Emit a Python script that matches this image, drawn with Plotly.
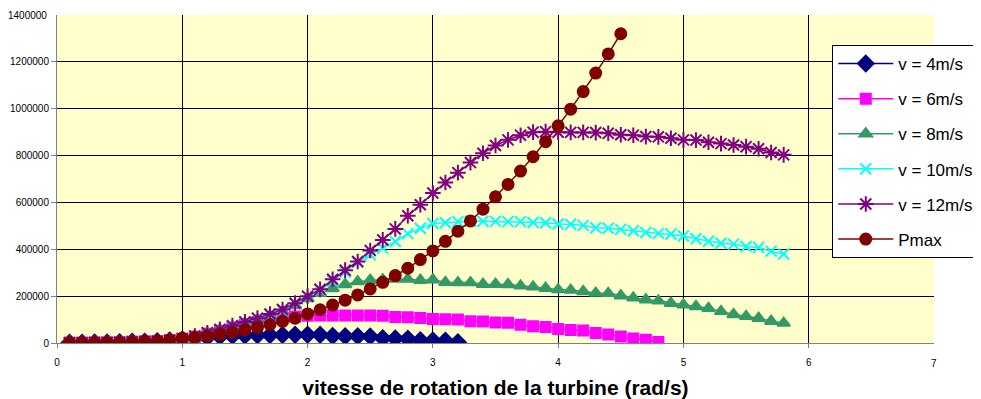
import plotly.graph_objects as go

x_all = [0.1, 0.2, 0.3, 0.4, 0.5, 0.6, 0.7, 0.8, 0.9, 1.0,
         1.1, 1.2, 1.3, 1.4, 1.5, 1.6, 1.7, 1.8, 1.9, 2.0,
         2.1, 2.2, 2.3, 2.4, 2.5, 2.6, 2.7, 2.8, 2.9, 3.0,
         3.1, 3.2, 3.3, 3.4, 3.5, 3.6, 3.7, 3.8, 3.9, 4.0,
         4.1, 4.2, 4.3, 4.4, 4.5, 4.6, 4.7, 4.8, 4.9, 5.0,
         5.1, 5.2, 5.3, 5.4, 5.5, 5.6, 5.7, 5.8]

v4 = [1000, 1500, 2000, 2500, 3000, 5000, 6000, 8000, 11000, 15000,
      19000, 24000, 28000, 31000, 32000, 33000, 34000, 34000, 35000, 35000,
      35000, 30000, 29000, 29000, 28000, 20000, 19000, 18000, 12000, 11000,
      10000, 3000]

v6 = [1000, 1500, 2000, 2500, 3000, 5000, 6000, 8000, 12000, 18000,
      27000, 40000, 52000, 65000, 78000, 90000, 100000, 108000, 113000, 116000,
      117000, 117000, 117000, 117000, 117000, 116000, 111000, 110000, 107000, 102000,
      101000, 100000, 93000, 92000, 88000, 86000, 78000, 72000, 68000, 60000,
      55000, 53000, 43000, 36000, 28000, 19000, 14000, 4000]

v8 = [1000, 1500, 2000, 2500, 3000, 5000, 6000, 8000, 12000, 18000,
      28000, 42000, 56000, 70000, 86000, 100000, 116000, 135000, 160000, 190000,
      212000, 233000, 250000, 262000, 268000, 270000, 273000, 273000, 268000, 270000,
      259000, 258000, 258000, 251000, 251000, 250000, 244000, 240000, 234000, 228000,
      226000, 220000, 213000, 212000, 202000, 193000, 185000, 180000, 170000, 163000,
      156000, 148000, 135000, 122000, 114000, 106000, 93000, 85000]

v10 = [1000, 1500, 2000, 2500, 3000, 5000, 6000, 8000, 12000, 18000,
       28000, 42000, 57000, 72000, 88000, 104000, 120000, 140000, 168000, 198000,
       225000, 265000, 303000, 345000, 377000, 405000, 433000, 467000, 490000, 510000,
       513000, 518000, 520000, 520000, 519000, 518000, 518000, 514000, 513000, 508000,
       507000, 502000, 492000, 490000, 485000, 479000, 472000, 468000, 465000, 457000,
       445000, 434000, 426000, 422000, 412000, 408000, 392000, 380000]

v12 = [1000, 1500, 2000, 2500, 3000, 5000, 6000, 8000, 12000, 18000,
       30000, 44000, 58000, 74000, 90000, 106000, 124000, 143000, 170000, 200000,
       229000, 272000, 311000, 348000, 395000, 440000, 487000, 543000, 590000, 640000,
       685000, 727000, 770000, 810000, 843000, 867000, 887000, 900000, 902000, 900000,
       899000, 899000, 898000, 895000, 889000, 887000, 881000, 880000, 874000, 867000,
       866000, 857000, 851000, 845000, 838000, 829000, 813000, 803000]

pmax = [2000, 2000, 2000, 2500, 3000, 5000, 7000, 9000, 13000, 20000,
        24000, 30000, 37000, 45000, 55000, 66000, 78000, 92000, 106000, 124000,
        142000, 162000, 183000, 205000, 231000, 259000, 288000, 319000, 356000, 393000,
        434000, 477000, 521000, 571000, 624000, 677000, 734000, 795000, 859000, 927000,
        998000, 1073000, 1152000, 1234000, 1320000]

x_ticks = [0, 1, 2, 3, 4, 5, 6, 7]
y_ticks = [0, 200000, 400000, 600000, 800000, 1000000, 1200000, 1400000]

names = ["v = 4m/s", "v = 6m/s", "v = 8m/s", "v = 10m/s", "v = 12m/s", "Pmax"]
series = [v4, v6, v8, v10, v12, pmax]
colors = ["#000080", "#FF00FF", "#339966", "#00FFFF", "#800080", "#800000"]
symbols = ["diamond", "square", "triangle-up", "x-thin-open", "asterisk-open", "circle"]
sizes = [12, 10, 11, 11, 13, 11]

fig = go.Figure()
for i, (nm, ys) in enumerate(zip(names, series)):
    fig.add_trace(go.Scatter(
        x=x_all[:len(ys)], y=ys, name=nm, mode="lines+markers",
        legendgroup=str(i),
        line=dict(color=colors[i], width=1.5),
        marker=dict(symbol=symbols[i], size=sizes[i], color=colors[i],
                    line=dict(color=colors[i], width=2)),
    ))

# last tick of each axis labelled without its edge gridline (as in the original)
annotations = [
    dict(text=str(y_ticks[-1]), xref="paper", yref="y", x=0, y=y_ticks[-1],
         xanchor="right", yanchor="middle", xshift=-8, showarrow=False,
         font=dict(size=10, color="black")),
    dict(text=str(x_ticks[-1]), xref="x", yref="paper", x=x_ticks[-1], y=0,
         xanchor="center", yanchor="top", yshift=-13, showarrow=False,
         font=dict(size=10, color="black")),
]

fig.update_layout(
    width=973, height=391,
    margin=dict(l=49, r=47, t=7, b=56, autoexpand=False),
    paper_bgcolor="white",
    plot_bgcolor="#FFFFCC",
    font=dict(family="Liberation Sans, Arial", color="black"),
    showlegend=True,
    annotations=annotations,
    legend=dict(
        x=0.884, y=0.9085, xanchor="left", yanchor="top",
        bgcolor="white", bordercolor="black", borderwidth=1,
        font=dict(size=17, color="black"),
        tracegroupgap=10, itemwidth=55,
    ),
    xaxis=dict(
        range=[x_ticks[0], x_ticks[-1]], tickvals=x_ticks[:-1], automargin=False,
        showgrid=True, gridcolor="black", gridwidth=1,
        zeroline=False, showline=True, linecolor="#808080", linewidth=1,
        ticks="outside", ticklen=4, tickcolor="#808080",
        tickfont=dict(size=10), ticklabelstandoff=6,
        title=dict(text="<b>vitesse de rotation de la turbine (rad/s)</b>",
                   font=dict(size=21), standoff=20),
    ),
    yaxis=dict(
        range=[y_ticks[0], y_ticks[-1]], tickvals=y_ticks[:-1], automargin=False,
        showgrid=True, gridcolor="black", gridwidth=1,
        zeroline=False, showline=True, linecolor="#808080", linewidth=1,
        ticks="outside", ticklen=5, tickcolor="#808080",
        tickfont=dict(size=10), tickformat="d",
    ),
)

fig.write_html("out.html")
